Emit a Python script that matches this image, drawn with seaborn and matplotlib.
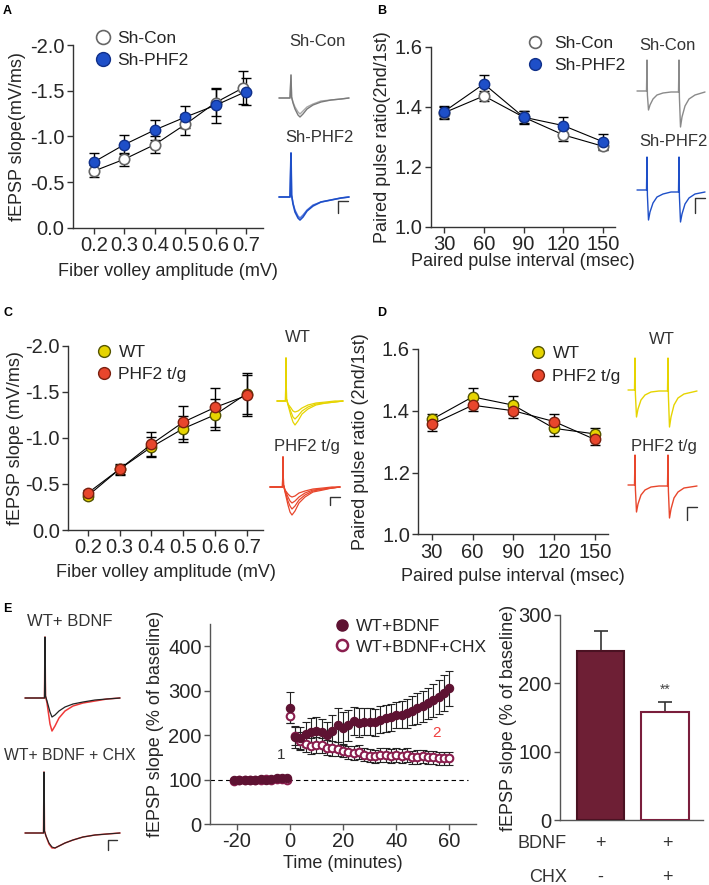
import matplotlib
matplotlib.use("Agg")
import matplotlib.pyplot as plt
from matplotlib.lines import Line2D
import numpy as np
import pandas as pd
import seaborn as sns

# ---------------- data ----------------
# A: input/output, Sh-Con vs Sh-PHF2
fv_amp = [0.2, 0.3, 0.4, 0.5, 0.6, 0.7]
shcon_x = [0.2, 0.3, 0.4, 0.5, 0.6, 0.69]
shcon_io = [-0.62, -0.75, -0.91, -1.13, -1.37, -1.53]
shcon_io_err = [0.07, 0.07, 0.09, 0.12, 0.15, 0.18]
shphf2_io = [-0.72, -0.91, -1.07, -1.21, -1.34, -1.49]
shphf2_io_err = [0.10, 0.10, 0.11, 0.12, 0.19, 0.15]

# B: paired pulse, Sh-Con vs Sh-PHF2
pp_int = [30, 60, 90, 120, 150]
shcon_ppr = [1.38, 1.436, 1.365, 1.306, 1.268]
shcon_ppr_err = [0.02, 0.018, 0.02, 0.02, 0.012]
shphf2_ppr = [1.384, 1.476, 1.365, 1.337, 1.283]
shphf2_ppr_err = [0.02, 0.03, 0.022, 0.03, 0.025]

# C: input/output, WT vs PHF2 t/g
wt_io = [-0.37, -0.66, -0.90, -1.10, -1.25, -1.48]
wt_io_err = [0.03, 0.05, 0.11, 0.14, 0.17, 0.22]
tg_io = [-0.40, -0.66, -0.93, -1.17, -1.33, -1.46]
tg_io_err = [0.03, 0.06, 0.13, 0.18, 0.21, 0.22]

# D: paired pulse, WT vs PHF2 t/g
wt_ppr = [1.372, 1.445, 1.418, 1.343, 1.325]
wt_ppr_err = [0.018, 0.03, 0.03, 0.025, 0.02]
tg_ppr = [1.356, 1.418, 1.40, 1.365, 1.307]
tg_ppr_err = [0.02, 0.02, 0.025, 0.025, 0.018]

# E: LTP time course
base_t = [-21, -19, -17, -15, -13, -11, -9, -7, -5, -3, -1]
bdnf_base = [98, 99, 100, 99, 100, 101, 100, 102, 103, 104, 104]
chx_base = [97, 98, 99, 100, 98, 99, 101, 100, 102, 101, 100]
post_t = [0, 2, 4, 6, 8, 10, 12, 14, 16, 18, 20, 22, 24, 26, 28, 30,
          32, 34, 36, 38, 40, 42, 44, 46, 48, 50, 52, 54, 56, 58, 60]
bdnf_post = [262, 196, 194, 202, 208, 210, 207, 200, 210, 222, 215, 222,
             232, 228, 230, 230, 229, 235, 238, 240, 245, 246, 249, 255,
             260, 265, 272, 278, 286, 295, 305]
bdnf_post_err = [35, 25, 25, 28, 30, 30, 30, 30, 35, 38, 38, 35, 32, 32,
                 30, 30, 30, 30, 30, 30, 30, 30, 32, 32, 35, 35, 35, 38,
                 38, 40, 40]
chx_post = [243, 198, 186, 180, 176, 178, 177, 172, 170, 168, 165, 161,
            160, 162, 156, 154, 152, 155, 155, 153, 155, 153, 155, 150,
            151, 152, 150, 150, 148, 148, 148]
chx_post_err = [15, 20, 20, 18, 18, 18, 17, 17, 16, 16, 15, 15, 15, 15,
                15, 15, 15, 15, 15, 15, 15, 15, 15, 15, 15, 15, 15, 15,
                15, 15, 15]

# E: bar summary
bar_cond = ["BDNF", "BDNF+CHX"]
bar_vals = [247, 158]
bar_err = [30, 14]

# example traces (pixel-like units, baseline = 0)
t_a = [0, 11, 12, 12.6, 14, 16, 19, 21, 24, 28, 34, 42, 52, 62, 70]
con_a1 = [0, 0, 23, 1, -5, -11, -17, -19, -16, -11, -7, -4, -2, -1, 0]
con_a2 = [0, 0, 23, 1, -4, -9, -14, -16, -13, -9, -6, -3, -2, -1, 0]
phf_a1 = [0, 0, 44, 2, -7, -15, -21, -23, -20, -14, -9, -5, -3, -1, 0]
phf_a2 = [0, 0, 44, 2, -6, -13, -19, -21, -18, -13, -8, -5, -3, -1, 0]

t_b = [0, 9.5, 10, 10.4, 11.5, 13, 16, 20, 26, 34, 41.5, 42, 42.4,
       43.5, 45, 48, 52, 58, 68]
con_b = [0, 0, 31, -4, -19, -14, -8, -4, -2, -1, -1, 31, -6, -36, -26,
         -15, -8, -4, -1]
phf_b = [0, 0, 33, -5, -30, -22, -13, -7, -4, -2, -2, 33, -6, -32, -24,
         -14, -8, -4, -2]

t_c1 = [0, 8.5, 9, 9.5, 11, 14, 16, 18, 21, 25, 31, 39, 49, 58, 66]
wt_c = [[0, 0, 43, 2, -4, -15, -21, -24, -20, -13, -8, -4, -2, -1, 0],
        [0, 0, 43, 2, -3, -11, -16, -18, -15, -10, -6, -3, -2, -1, 0],
        [0, 0, 43, 2, -3, -7, -10, -11, -10, -7, -4, -2, -1, 0, 0]]
t_c2 = [0, 12.5, 13, 13.5, 15, 18, 20, 22, 25, 29, 35, 43, 53, 62, 70]
tg_c = [[0, 0, 30, 2, -5, -18, -25, -28, -24, -16, -10, -5, -3, -1, 0],
        [0, 0, 30, 2, -4, -14, -19, -22, -19, -13, -8, -4, -2, -1, 0],
        [0, 0, 30, 2, -3, -10, -14, -16, -14, -10, -6, -3, -2, -1, 0],
        [0, 0, 30, 2, -3, -7, -9, -10, -9, -6, -4, -2, -1, 0, 0]]

t_d = [0, 6.5, 7, 7.4, 8.5, 10, 13, 17, 23, 31, 39.5, 40, 40.4, 41.5,
       43, 46, 50, 56, 69]
wt_d = [0, 0, 32, -4, -27, -19, -10, -5, -2, -1, -1, 32, -6, -37, -27,
        -15, -8, -4, -1]
tg_d = [0, 0, 30, -4, -27, -19, -10, -5, -2, -1, -1, 30, -6, -33, -24,
        -13, -7, -3, -1]

t_e1 = [0, 19.5, 20, 20.5, 22, 25, 27, 30, 34, 40, 48, 58, 70, 82, 95]
bdnf_red = [0, 0, 61, 2, -5, -26, -33, -28, -20, -13, -8, -5, -3, -1, 0]
bdnf_black = [0, 0, 61, 2, -3, -14, -19, -17, -13, -9, -6, -4, -2, -1, 0]
t_e2 = [0, 18.5, 19, 19.5, 21, 24, 27, 30, 34, 40, 48, 58, 70, 82, 95]
chx_red = [0, 0, 61, 2, -3, -11, -15, -15, -13, -10, -7, -4, -2, -1, 0]
chx_black = [0, 0, 61, 2, -3, -10, -14, -15, -13, -10, -7, -4, -2, -1, 0]

# ---------------- style ----------------
sns.set_style("ticks")
plt.rcParams["font.family"] = ["Liberation Sans", "DejaVu Sans"]
plt.rcParams["axes.unicode_minus"] = False

W, H = 709, 885
fig = plt.figure(figsize=(W / 100, H / 100), dpi=100)

BLUE = "#1E4FC8"
GRAY = "#666666"
YEL = "#E6D400"
RED = "#E8462C"
MAROON = "#5E1232"
OPENM = "#8A1E4E"
TICK_FS = 14.5
LAB_FS = 13
LEG_FS = 12.5
TR_FS = 12


def rect(l, t, r, b):
    return [l / W, 1 - b / H, (r - l) / W, (b - t) / H]


def style_ax(ax, color="#333333"):
    sns.despine(ax=ax)
    for s in ["left", "bottom"]:
        ax.spines[s].set_color(color)
        ax.spines[s].set_linewidth(1.0)
    ax.tick_params(labelsize=TICK_FS, length=4, width=1, color=color, pad=2)


def series(ax, x, y, err, fc, ec, ms=7.5, mew=1.0):
    ax.errorbar(x, y, yerr=err, fmt="none", ecolor="black", elinewidth=1,
                capsize=3.5, capthick=1, zorder=2)
    sns.lineplot(x=x, y=y, ax=ax, color="black", lw=0.8, marker="o",
                 markersize=ms, markerfacecolor=fc, markeredgecolor=ec,
                 markeredgewidth=mew, zorder=3)


def legend(ax, items, x, y, ms, pad=0.35, spacing=0.38):
    handles = [Line2D([], [], ls="none", marker="o", ms=ms, mfc=fc, mec=ec,
                      mew=mew) for fc, ec, mew, _ in items]
    ax.legend(handles, [it[3] for it in items], loc="upper left",
              bbox_to_anchor=(x / W, 1 - y / H), bbox_transform=fig.transFigure,
              frameon=False, borderpad=0, borderaxespad=0, handlelength=1.0,
              handletextpad=pad, labelspacing=spacing, fontsize=LEG_FS)


def trace_ax(x0, base, w, up, down):
    ax = fig.add_axes(rect(x0 - 2, base - up, x0 + w + 2, base + down))
    ax.set_xlim(-2, w + 2)
    ax.set_ylim(-down, up)
    ax.axis("off")
    return ax


def ftext(x, y, s, **kw):
    kw.setdefault("fontsize", TR_FS)
    kw.setdefault("ha", "center")
    kw.setdefault("va", "center")
    kw.setdefault("color", "#333333")
    fig.text(x / W, 1 - y / H, s, **kw)


# ---------------- panel A ----------------
axA = fig.add_axes(rect(72.7, 45, 263, 227.7))
series(axA, shcon_x, shcon_io, shcon_io_err, "white", GRAY, mew=1.2)
series(axA, fv_amp, shphf2_io, shphf2_io_err, BLUE, "#10308A")
axA.set_xlim(0.13, 0.756)
axA.set_ylim(0, -2.0)
axA.set_xticks(fv_amp)
axA.set_xticklabels([f"{v:.1f}" for v in fv_amp])
axA.set_yticks([0, -0.5, -1.0, -1.5, -2.0])
axA.set_yticklabels(["0.0", "-0.5", "-1.0", "-1.5", "-2.0"])
axA.set_xlabel("Fiber volley amplitude (mV)", fontsize=LAB_FS, labelpad=5.5)
axA.set_ylabel("fEPSP slope(mV/ms)", fontsize=LAB_FS, labelpad=3)
style_ax(axA)
legend(axA, [("white", GRAY, 1.2, "Sh-Con"), (BLUE, "#10308A", 1.0, "Sh-PHF2")],
       94, 31, ms=10)

ta = trace_ax(279, 98, 70, 25, 22)
ta.plot(t_a, con_a2, color="#A8A8A8", lw=1)
ta.plot(t_a, con_a1, color="#7A7A7A", lw=1)
tb = trace_ax(279, 197, 70, 45, 25)
tb.plot(t_a, phf_a2, color="#5577DD", lw=1)
tb.plot(t_a, phf_a1, color=BLUE, lw=1.2)
tb.plot([59, 59, 69], [-16, -4, -4], color="#333333", lw=1)
ftext(317, 42, "Sh-Con")
ftext(319, 138, "Sh-PHF2")

# ---------------- panel B ----------------
axB = fig.add_axes(rect(431, 46.7, 615, 226.7))
series(axB, pp_int, shcon_ppr, shcon_ppr_err, "white", GRAY, mew=1.2)
series(axB, pp_int, shphf2_ppr, shphf2_ppr_err, BLUE, "#10308A")
axB.set_xlim(20, 159)
axB.set_ylim(1.0, 1.6)
axB.set_xticks(pp_int)
axB.set_yticks([1.0, 1.2, 1.4, 1.6])
axB.set_yticklabels(["1.0", "1.2", "1.4", "1.6"])
axB.set_xlabel("Paired pulse interval (msec)", fontsize=LAB_FS, labelpad=-1)
axB.set_ylabel("Paired pulse ratio(2nd/1st)", fontsize=LAB_FS, labelpad=3)
style_ax(axB)
legend(axB, [("white", GRAY, 1.2, "Sh-Con"), (BLUE, "#10308A", 1.0, "Sh-PHF2")],
       526, 36, ms=8.5, pad=0.65)

tc = trace_ax(637, 91, 68, 34, 38)
tc.plot(t_b, con_b, color="#8A8A8A", lw=1)
td = trace_ax(637, 190, 68, 36, 34)
td.plot(t_b, phf_b, color=BLUE, lw=1)
td.plot([58, 58, 68], [-23, -8, -8], color="#333333", lw=1)
ftext(667, 45, "Sh-Con")
ftext(673, 142, "Sh-PHF2")

# ---------------- panel C ----------------
axC = fig.add_axes(rect(68.3, 345.7, 263, 530))
series(axC, fv_amp, wt_io, wt_io_err, YEL, "#555500")
series(axC, fv_amp, tg_io, tg_io_err, RED, "#7A2010")
axC.set_xlim(0.139, 0.751)
axC.set_ylim(0, -2.0)
axC.set_xticks(fv_amp)
axC.set_xticklabels([f"{v:.1f}" for v in fv_amp])
axC.set_yticks([0, -0.5, -1.0, -1.5, -2.0])
axC.set_yticklabels(["0.0", "-0.5", "-1.0", "-1.5", "-2.0"])
axC.set_xlabel("Fiber volley amplitude (mV)", fontsize=LAB_FS, labelpad=4.5)
axC.set_ylabel("fEPSP slope (mV/ms)", fontsize=LAB_FS, labelpad=1)
style_ax(axC)
legend(axC, [(YEL, "#555500", 1.0, "WT"), (RED, "#7A2010", 1.0, "PHF2 t/g")],
       95, 345, ms=8.5, pad=0.35)

te = trace_ax(277, 401, 66, 46, 28)
for sw in wt_c:
    te.plot(t_c1, sw, color=YEL, lw=0.9)
tf = trace_ax(270, 487, 70, 33, 32)
for sw in tg_c:
    tf.plot(t_c2, sw, color=RED, lw=0.9)
tf.plot([60, 60, 70], [-18, -10, -10], color="#333333", lw=1)
ftext(298, 338, "WT")
ftext(307, 447, "PHF2 t/g")

# ---------------- panel D ----------------
axD = fig.add_axes(rect(418.3, 349, 608, 534.3))
series(axD, pp_int, wt_ppr, wt_ppr_err, YEL, "#555500")
series(axD, pp_int, tg_ppr, tg_ppr_err, RED, "#7A2010")
axD.set_xlim(20, 159.6)
axD.set_ylim(1.0, 1.6)
axD.set_xticks(pp_int)
axD.set_yticks([1.0, 1.2, 1.4, 1.6])
axD.set_yticklabels(["1.0", "1.2", "1.4", "1.6"])
axD.set_xlabel("Paired pulse interval (msec)", fontsize=LAB_FS, labelpad=4.5)
axD.set_ylabel("Paired pulse ratio (2nd/1st)", fontsize=LAB_FS, labelpad=9)
style_ax(axD)
legend(axD, [(YEL, "#555500", 1.0, "WT"), (RED, "#7A2010", 1.0, "PHF2 t/g")],
       529, 346, ms=8.5, pad=0.35, spacing=0.45)

tg_ = trace_ax(628, 390, 69, 35, 40)
tg_.plot(t_d, wt_d, color=YEL, lw=1)
th = trace_ax(628, 485, 69, 33, 37)
th.plot(t_d, tg_d, color=RED, lw=1)
th.plot([59, 59, 69], [-35, -22, -22], color="#333333", lw=1)
ftext(662, 340, "WT")
ftext(664, 447, "PHF2 t/g")

# ---------------- panel E: traces ----------------
ti = trace_ax(25, 698, 95, 64, 36)
ti.plot(t_e1, bdnf_red, color="#F03A3A", lw=1.1)
ti.plot(t_e1, bdnf_black, color="#222222", lw=0.9)
tj = trace_ax(25, 833, 95, 64, 20)
tj.plot(t_e2, chx_red, color="#F03A3A", lw=1.1)
tj.plot(t_e2, chx_black, color="#222222", lw=0.8)
tj.plot([83, 83, 92], [-17, -7, -7], color="#333333", lw=1)
ftext(70, 622, "WT+ BDNF")
ftext(70, 755, "WT+ BDNF + CHX", fontsize=11.3)

# ---------------- panel E: time course ----------------
axE = fig.add_axes(rect(210, 624, 476, 824))
axE.axhline(100, xmax=0.97, color="black", lw=0.8, ls=(0, (4, 3)), zorder=1)
axE.errorbar(post_t, bdnf_post, yerr=bdnf_post_err, fmt="none",
             ecolor="#222222", elinewidth=0.8, capsize=3, capthick=0.8, zorder=2)
axE.errorbar(post_t, chx_post, yerr=chx_post_err, fmt="none",
             ecolor="#222222", elinewidth=0.8, capsize=3, capthick=0.8, zorder=2)
sns.scatterplot(x=base_t + post_t, y=bdnf_base + bdnf_post, ax=axE, s=36,
                color=MAROON, edgecolor=MAROON, linewidth=0.8, zorder=4)
sns.scatterplot(x=base_t + post_t, y=chx_base + chx_post, ax=axE, s=30,
                facecolor="white", edgecolor=OPENM, linewidth=1.5, zorder=3)
axE.text(-3.4, 155, "1", fontsize=11, color="#333333", ha="center", va="center")
axE.text(55, 205, "2", fontsize=11, color="#F04040", ha="center", va="center")
axE.set_xlim(-30, 70)
axE.set_ylim(0, 450)
axE.set_xticks([-20, 0, 20, 40, 60])
axE.set_yticks([0, 100, 200, 300, 400])
axE.set_xlabel("Time (minutes)", fontsize=LAB_FS, labelpad=3)
axE.set_ylabel("fEPSP slope (% of baseline)", fontsize=LAB_FS, labelpad=3)
style_ax(axE, "#555555")
legend(axE, [(MAROON, MAROON, 1.0, "WT+BDNF"),
             ("white", OPENM, 1.8, "WT+BDNF+CHX")], 333, 619, ms=8, pad=0.3,
       spacing=0.3)

# ---------------- panel E: bars ----------------
axF = fig.add_axes(rect(560, 615, 703, 820))
bar_df = pd.DataFrame({"cond": bar_cond, "slope": bar_vals})
sns.barplot(data=bar_df, x="cond", y="slope", ax=axF, width=0.73,
            color="white", linewidth=1.5, zorder=3)
for patch, fc, ec in zip(axF.patches, ["#6E1F35", "white"],
                         ["#4A1222", "#7A1E3C"]):
    patch.set_facecolor(fc)
    patch.set_edgecolor(ec)
axF.errorbar([0, 1], bar_vals, yerr=[[0, 0], bar_err], fmt="none",
             ecolor="#333333", elinewidth=1.2, capsize=5, capthick=1.2, zorder=2)
axF.text(1, 190, "**", fontsize=10, color="#444444", ha="center", va="center")
axF.set_xlim(-0.63, 1.59)
axF.set_ylim(0, 300)
axF.set_yticks([0, 100, 200, 300])
axF.set_xticks([])
axF.set_xlabel("")
axF.set_ylabel("fEPSP slope (% of baseline)", fontsize=LAB_FS, labelpad=1)
style_ax(axF, "#555555")
ftext(567, 844, "BDNF", ha="right", fontsize=LAB_FS)
ftext(567, 877, "CHX", ha="right", fontsize=LAB_FS)
for xx, s1, s2 in zip([600, 667], ["+", "+"], ["-", "+"]):
    ftext(xx, 844, s1, fontsize=LAB_FS)
    ftext(xx, 877, s2, fontsize=LAB_FS)

# panel letters
for (lx, ly, s) in [(3, 5, "A"), (377, 5, "B"), (3, 307, "C"),
                    (377, 307, "D"), (3, 603, "E")]:
    ftext(lx, ly, s, fontsize=9, fontweight="bold", ha="left", va="top",
          color="black")

fig.savefig("out.png", dpi=100)
